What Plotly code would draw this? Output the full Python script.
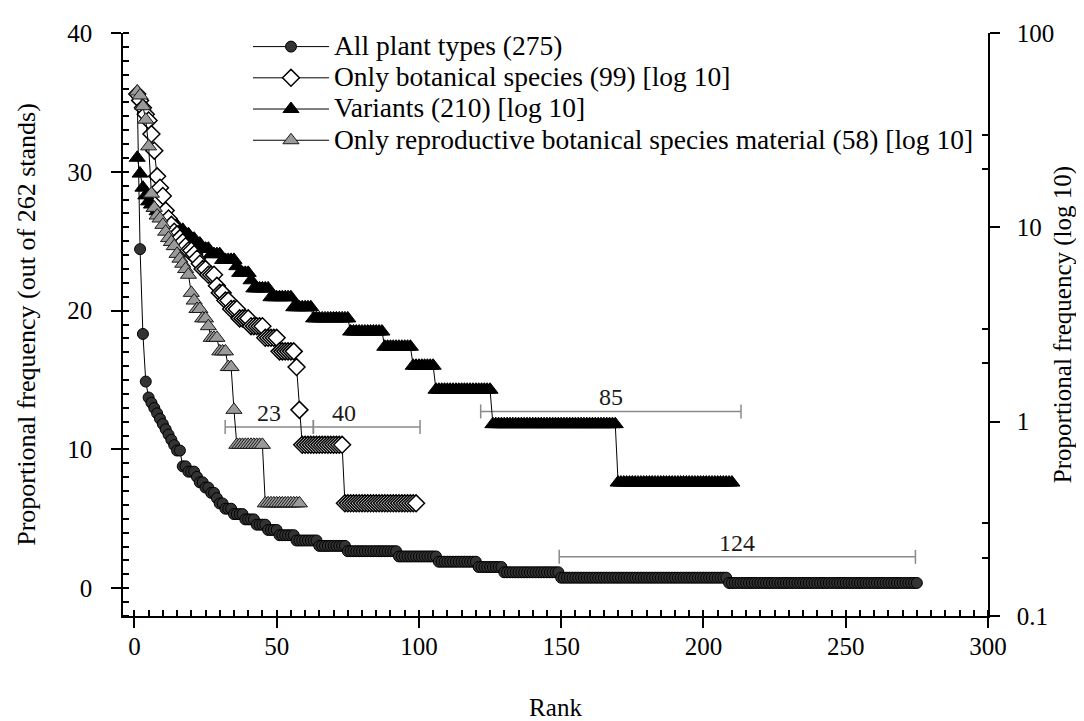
import numpy as np
import plotly.graph_objects as go

# ---------------- data ----------------
# Each series is given as plateau levels (proportional frequency, %) and
# the number of consecutive ranks that share each level.
all_types_levels = [35.50, 24.43, 18.32, 14.89, 13.74, 13.36, 12.98, 12.60, 12.21, 11.83,
                    11.45, 11.07, 10.69, 10.31, 9.92, 8.78, 8.40, 8.02, 7.63, 7.25,
                    6.87, 6.49, 6.11, 5.73, 5.34, 4.96, 4.58, 4.20, 3.82, 3.44,
                    3.05, 2.67, 2.29, 1.91, 1.53, 1.15, 0.76, 0.38]
all_types_runs = [1, 1, 1, 1, 1, 1, 1, 1, 1, 1,
                  1, 1, 1, 1, 2, 2, 3, 1, 2, 2,
                  2, 1, 2, 3, 4, 4, 4, 4, 6, 8,
                  10, 18, 14, 14, 9, 20, 59, 67]

botanical_levels = [48.5, 45.0, 41.2, 38.2, 35.5, 30.2, 24.8, 18.3, 16.0, 14.5,
                    12.2, 11.1, 10.3, 9.5, 9.2, 8.8, 8.4, 8.0, 7.6, 7.3,
                    6.9, 6.5, 6.1, 5.7, 5.0, 4.6, 4.2, 3.8, 3.4, 3.1,
                    2.7, 2.3, 1.91, 1.15, 0.76, 0.38]
botanical_runs = [1, 1, 1, 1, 1, 1, 1, 1, 1, 1,
                  1, 1, 1, 1, 1, 1, 1, 1, 2, 1,
                  1, 1, 2, 3, 1, 2, 2, 3, 4, 5,
                  5, 6, 1, 1, 15, 26]

variants_levels = [22.8, 18.9, 16.0, 14.6, 13.6, 13.1, 12.6, 12.1, 11.7, 11.2,
                   10.7, 10.2, 9.71, 9.22, 8.74, 8.25, 7.77, 7.28, 6.80, 6.31,
                   5.83, 5.34, 4.85, 4.37, 3.88, 3.40, 2.91, 2.43, 1.94, 1.46,
                   0.971, 0.486]
variants_runs = [1, 1, 1, 1, 1, 1, 1, 1, 1, 2,
                 2, 2, 2, 2, 2, 2, 3, 4, 5, 1,
                 4, 1, 6, 8, 7, 13, 12, 10, 8, 20,
                 44, 41]

reproductive_levels = [50.0, 47.7, 42.0, 35.8, 26.1, 14.9, 12.6, 11.5, 11.1, 10.3,
                       9.5, 8.8, 8.4, 8.0, 7.3, 6.9, 6.5, 6.1, 5.7, 4.6,
                       4.2, 3.8, 3.4, 3.1, 2.7, 2.3, 1.91, 1.15, 0.76, 0.38]
reproductive_runs = [1, 1, 1, 1, 1, 1, 1, 1, 1, 1,
                     1, 1, 1, 1, 1, 1, 1, 1, 1, 1,
                     1, 2, 2, 1, 3, 3, 2, 1, 10, 13]

series_names = ["All plant types (275)",
                "Only botanical species (99) [log 10]",
                "Variants (210) [log 10]",
                "Only reproductive botanical species material (58) [log 10]"]

# range brackets (rank from, rank to, level on left axis) and their labels
bracket_labels = ["23", "40", "85", "124"]
bracket_from = [31.9, 62.9, 121.7, 149.3]
bracket_to = [62.9, 100.4, 213.2, 274.5]
bracket_level = [11.62, 11.62, 12.74, 2.26]

x_ticks = [0, 50, 100, 150, 200, 250, 300]
y_ticks = [0, 10, 20, 30, 40]
y2_ticks = [0.1, 1, 10, 100]
y2_ticklabels = ["0.1", "1", "10", "100"]
y2_minor = [0.2, 0.3, 2, 3, 20, 30]


def expand(levels, runs):
    vals = np.repeat(np.array(levels, dtype=float), runs)
    return np.arange(1, len(vals) + 1), vals


FONT = "Liberation Serif, Times New Roman, serif"

fig = go.Figure()

x1, y1 = expand(all_types_levels, all_types_runs)
x2, y2 = expand(botanical_levels, botanical_runs)
x3, y3 = expand(variants_levels, variants_runs)
x4, y4 = expand(reproductive_levels, reproductive_runs)


def lbl(t):
    return '<span style="font-size:27.5px">' + t + '</span>'


fig.add_trace(go.Scatter(
    x=x1, y=y1, name=lbl(series_names[0]), mode="lines+markers", yaxis="y",
    line=dict(color="black", width=1),
    marker=dict(symbol="circle", size=11, color="#333333",
                line=dict(color="black", width=1)),
    legendrank=1))
fig.add_trace(go.Scatter(
    x=x3, y=y3, name=lbl(series_names[2]), mode="lines+markers", yaxis="y2",
    line=dict(color="black", width=1),
    marker=dict(symbol="triangle-up", size=14, color="black",
                line=dict(color="black", width=1)),
    legendrank=3))
fig.add_trace(go.Scatter(
    x=x2, y=y2, name=lbl(series_names[1]), mode="lines+markers", yaxis="y2",
    line=dict(color="black", width=1),
    marker=dict(symbol="diamond", size=13, color="white",
                line=dict(color="black", width=1.5)),
    legendrank=2))
fig.add_trace(go.Scatter(
    x=x4, y=y4, name=lbl(series_names[3]), mode="lines+markers", yaxis="y2",
    line=dict(color="black", width=1),
    marker=dict(symbol="triangle-up", size=14, color="#9a9a9a",
                line=dict(color="#1a1a1a", width=1)),
    legendrank=4))

# brackets
for i, lab in enumerate(bracket_labels):
    fig.add_trace(go.Scatter(
        x=[bracket_from[i], bracket_to[i]], y=[bracket_level[i], bracket_level[i]],
        mode="lines+markers", yaxis="y", showlegend=False, hoverinfo="skip",
        line=dict(color="#8a8a8a", width=1.5),
        marker=dict(symbol="line-ns", size=10, line=dict(color="#8a8a8a", width=1.5))))

label_offsets = [0, -8, 0, 0]
for i, lab in enumerate(bracket_labels):
    mid = (bracket_from[i] + bracket_to[i]) / 2 + label_offsets[i]
    fig.add_annotation(x=mid, y=bracket_level[i], xref="x", yref="y",
                       text=lab, showarrow=False, yanchor="bottom", yshift=-1,
                       font=dict(family=FONT, size=24, color="#1a1a1a"))

axis_common = dict(showline=True, linecolor="black", linewidth=1.5, showgrid=False,
                   zeroline=False, ticks="outside", ticklen=10, tickwidth=1.5,
                   tickcolor="black", tickfont=dict(family=FONT, size=25, color="black"))

fig.update_layout(
    width=1084, height=721,
    margin=dict(l=115, r=104, t=21, b=113),
    paper_bgcolor="white", plot_bgcolor="white",
    font=dict(family=FONT, color="black"),
    showlegend=True,
    legend=dict(x=0.1445, y=1.012, xanchor="left", yanchor="top",
                bgcolor="rgba(0,0,0,0)", borderwidth=0,
                font=dict(family=FONT, size=21.7, color="black"),
                itemwidth=76, tracegroupgap=0),
    xaxis=dict(range=[-4, 300], tickvals=x_ticks, ticklabelstandoff=-3,
               minor=dict(dtick=5, tick0=0, ticks="inside", ticklen=6,
                          tickwidth=1.5, tickcolor="black"),
               title=dict(text="Rank", font=dict(family=FONT, size=25), standoff=40),
               **axis_common),
    yaxis=dict(range=[-2, 40], tickvals=y_ticks, ticklabelstandoff=14,
               minor=dict(dtick=1, tick0=0, ticks="inside", ticklen=6,
                          tickwidth=1.5, tickcolor="black"),
               title=dict(text="Proportional frequency (out of 262 stands)",
                          font=dict(family=FONT, size=26), standoff=24),
               **axis_common),
    yaxis2=dict(type="log", range=[-1, 2], overlaying="y", side="right",
                tickvals=y2_ticks, ticktext=y2_ticklabels, ticklabelstandoff=12,
                minor=dict(tickmode="array", tickvals=y2_minor, ticks="inside",
                           ticklen=6, tickwidth=1.5, tickcolor="black"),
                title=dict(text="Proportional frequency (log 10)",
                           font=dict(family=FONT, size=25), standoff=0),
                **axis_common),
)

fig.write_html("out.html")
